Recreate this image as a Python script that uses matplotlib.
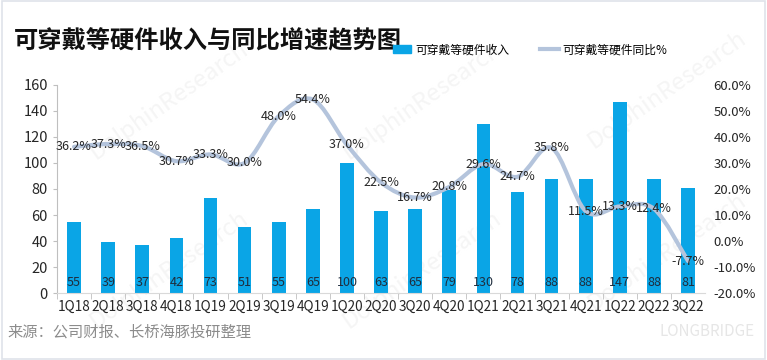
import matplotlib
matplotlib.use("Agg")
import matplotlib.pyplot as plt
from matplotlib.path import Path
from matplotlib.patches import PathPatch, Rectangle
from matplotlib.lines import Line2D

plt.rcParams['font.family'] = ['Noto Sans CJK SC', 'DejaVu Sans']

quarters = ['1Q18', '2Q18', '3Q18', '4Q18', '1Q19', '2Q19', '3Q19', '4Q19', '1Q20', '2Q20',
            '3Q20', '4Q20', '1Q21', '2Q21', '3Q21', '4Q21', '1Q22', '2Q22', '3Q22']
revenue = [55, 39, 37, 42, 73, 51, 55, 65, 100, 63, 65, 79, 130, 78, 88, 88, 147, 88, 81]
yoy = [36.2, 37.3, 36.5, 30.7, 33.3, 30.0, 48.0, 54.4, 37.0, 22.5, 16.7, 20.8, 29.6, 24.7,
       35.8, 11.5, 13.3, 12.4, -7.7]

bar_color = '#0aa5e6'
line_color = '#b4c4dc'
text_color = '#262626'

fig = plt.figure(figsize=(7.67, 3.6), dpi=100)
fig.patch.set_facecolor('white')
# thin frame round the picture
fig.add_artist(Rectangle((0.002, 0.003), 0.996, 0.994, transform=fig.transFigure,
                         fill=False, edgecolor='#dfe3ea', linewidth=1.2))

# faint diagonal watermarks, behind everything
for wx, wy in [(0.22, 0.72), (0.55, 0.72), (0.87, 0.75), (0.22, 0.25), (0.55, 0.25), (0.87, 0.3)]:
    fig.text(wx, wy, 'DolphinResearch', fontsize=17, color='#f5f5f5', rotation=35,
             ha='center', va='center', zorder=-5)

ax = fig.add_axes([0.0743, 0.186, 0.845, 0.578])
ax.patch.set_visible(False)
x = list(range(len(quarters)))
ax.bar(x, revenue, width=0.4, color=bar_color, zorder=2)
ax.set_xlim(-0.5, len(quarters) - 0.5)
ax.set_ylim(0, 160)
ax.set_yticks(range(0, 161, 20))
ax.set_xticks(x)
ax.set_xticklabels(quarters)
ax.tick_params(axis='y', labelsize=10.5, colors=text_color, length=3, color='#bfbfbf')
ax.tick_params(axis='x', labelsize=9.8, colors=text_color, length=0, pad=5)
ax.set_xticks([i + 0.5 for i in x[:-1]] + [-0.5], minor=True)
ax.tick_params(axis='x', which='minor', length=4, color='#bfbfbf')
for s in ['top', 'right']:
    ax.spines[s].set_visible(False)
ax.spines['left'].set_color('#bfbfbf')
ax.spines['bottom'].set_color('#d9d9d9')

for i, v in enumerate(revenue):
    ax.text(i, 8, str(v), ha='center', va='center', fontsize=9, color='#1f2d3d', zorder=4)

# right axis with the yoy curve
ax2 = ax.twinx()
ax2.patch.set_visible(False)
ax2.set_ylim(-20, 60)
ax2.set_yticks(range(-20, 61, 10))
ax2.set_yticklabels(['%.1f%%' % t for t in range(-20, 61, 10)])
ax2.tick_params(axis='y', labelsize=9.5, colors=text_color, length=0, pad=6)
for s in ax2.spines.values():
    s.set_visible(False)

# smooth curve through the points (Excel style), cubic bezier segments
pts = list(zip(x, yoy))
verts = [pts[0]]
codes = [Path.MOVETO]
n = len(pts)
for i in range(n - 1):
    p0 = pts[i - 1] if i > 0 else pts[i]
    p1 = pts[i]
    p2 = pts[i + 1]
    p3 = pts[i + 2] if i + 2 < n else pts[i + 1]
    c1 = (p1[0] + (p2[0] - p0[0]) / 6.0, p1[1] + (p2[1] - p0[1]) / 6.0)
    c2 = (p2[0] - (p3[0] - p1[0]) / 6.0, p2[1] - (p3[1] - p1[1]) / 6.0)
    verts += [c1, c2, p2]
    codes += [Path.CURVE4] * 3
ax2.add_patch(PathPatch(Path(verts, codes), facecolor='none', edgecolor=line_color,
                        linewidth=3, capstyle='round', joinstyle='round', zorder=3))

for i, v in enumerate(yoy):
    ax2.text(i, v, '%.1f%%' % v, ha='center', va='center', fontsize=9, color=text_color, zorder=5)

# title, legend, source
fig.text(0.018, 0.885, '可穿戴等硬件收入与同比增速趋势图', fontsize=17.5, fontweight='bold',
         color='#111111', ha='left', va='center')
handles = [Rectangle((0, 0), 1, 1, color=bar_color),
           Line2D([0], [0], color=line_color, linewidth=3)]
fig.legend(handles, ['可穿戴等硬件收入', '可穿戴等硬件同比%'], loc='center left',
           bbox_to_anchor=(0.498, 0.862), ncol=2, frameon=False, fontsize=8.5,
           handlelength=1.6, handleheight=0.7, columnspacing=2.6, handletextpad=0.3)
fig.text(0.010, 0.078, '来源：公司财报、长桥海豚投研整理', fontsize=11, color='#8c8c8c',
         ha='left', va='center')
fig.text(0.86, 0.078, 'LONGBRIDGE', fontsize=11, color='#e6e6e6', ha='left', va='center')

fig.savefig('out.png', dpi=100)
